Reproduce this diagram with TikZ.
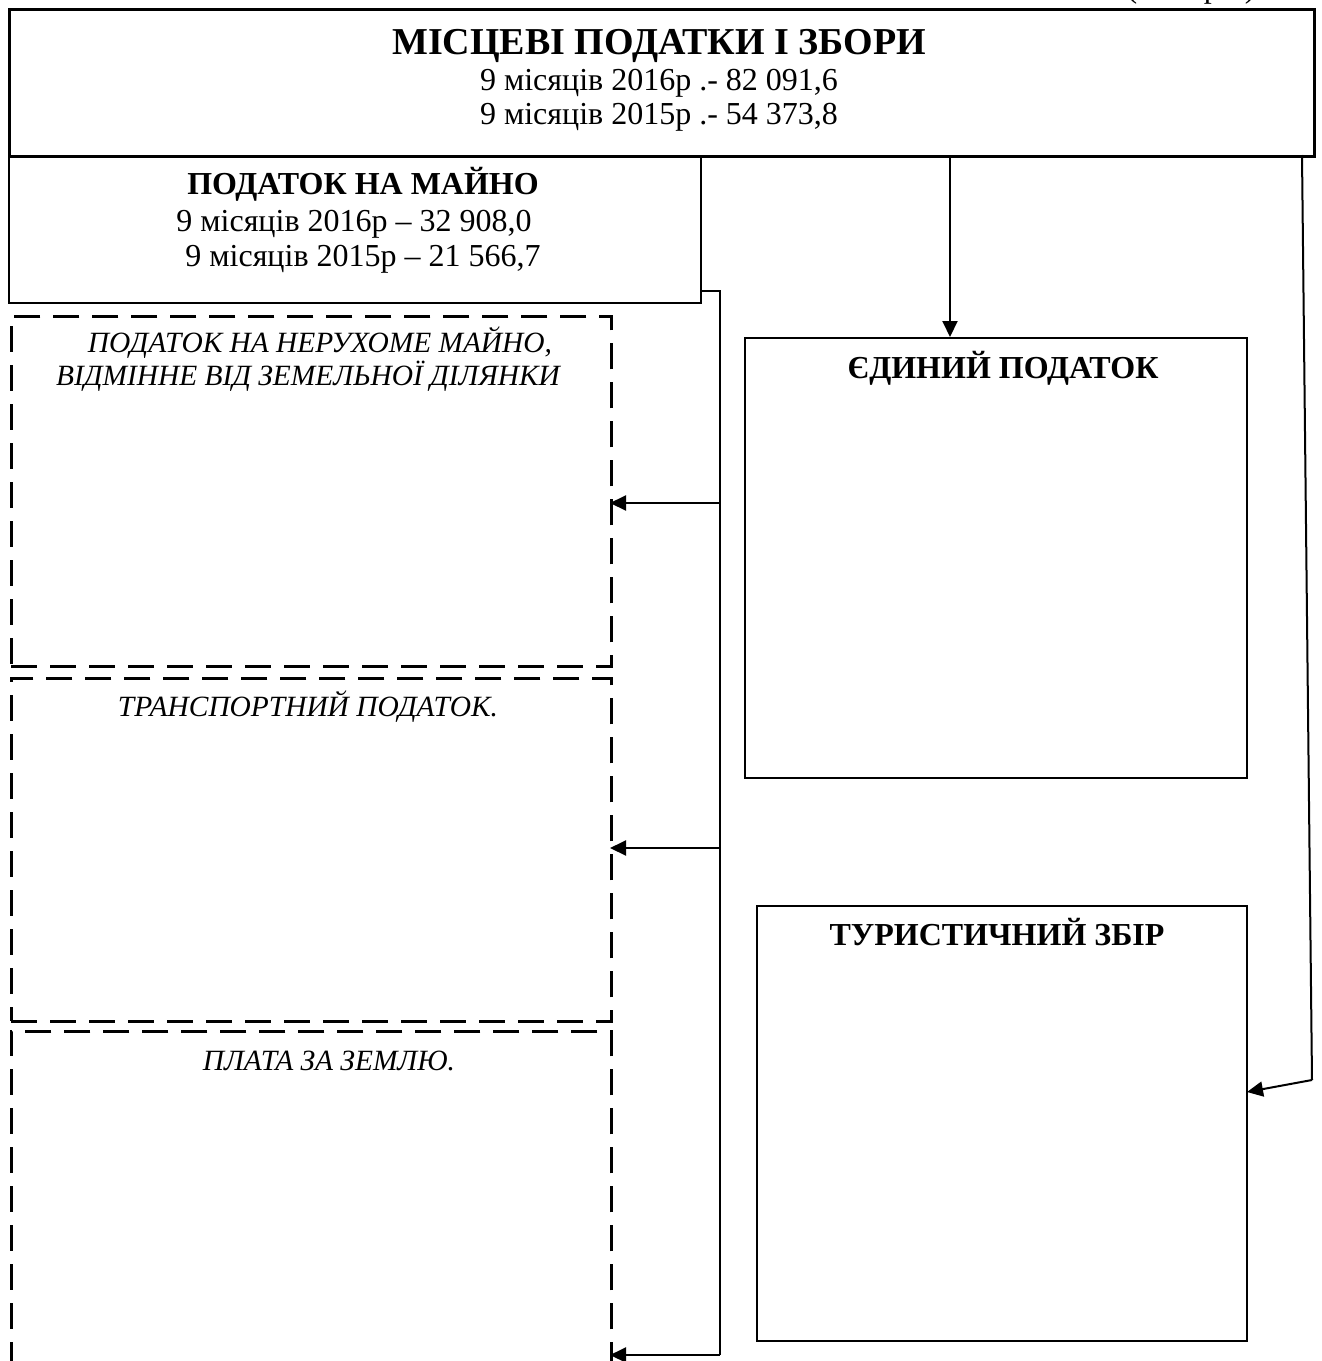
\documentclass[tikz,border=0pt]{standalone}
\usepackage{fontspec}
\setmainfont{Liberation Serif}
\usetikzlibrary{arrows.meta}
\begin{document}
\begin{tikzpicture}[x=0.5pt,y=-0.5pt,
  solidbox/.style={draw,line width=1pt,anchor=north west,inner sep=0pt},
  dbox/.style={draw,line width=1.4pt,dash pattern=on 13pt off 6.5pt,anchor=north west,inner sep=0pt},
  txt/.style={anchor=base,inner sep=0pt,font=\fontsize{16}{19}\selectfont},
  btxt/.style={txt,font=\fontsize{16}{19}\selectfont\bfseries},
  itxt/.style={txt,font=\fontsize{14.7}{18}\selectfont\itshape},
  conn/.style={line width=1pt},
  arr/.style={line width=1pt,-{Triangle[length=8pt,width=7.5pt]}}]
\useasboundingbox (0,0) rectangle (1322,1361);
% caption clipped at top
\node[txt,anchor=base east] (unit) at (1256,-3) {(тис.грн.)};
% boxes
\node[solidbox,line width=1.5pt,minimum width=652.5pt,minimum height=73.5pt] (top) at (8,8) {};
\node[solidbox,minimum width=346pt,minimum height=73.5pt] (maino) at (8,155) {};
\node[dbox,minimum width=300pt,minimum height=175pt] (d1) at (10,315) {};
\node[dbox,minimum width=300pt,minimum height=171.5pt] (d2) at (10,677) {};
\node[dbox,minimum width=300pt,minimum height=200pt] (d3) at (10,1030) {};
\node[solidbox,minimum width=251pt,minimum height=220pt] (edyn) at (744,337) {};
\node[solidbox,minimum width=245pt,minimum height=217.5pt] (tur) at (756,905) {};
% texts
\node[btxt,font=\fontsize{19}{22}\selectfont\bfseries] (t0) at (659,54) {МІСЦЕВІ ПОДАТКИ І ЗБОРИ};
\node[txt] (t1) at (659,90) {9 місяців 2016р .- 82 091,6};
\node[txt] (t2) at (659,124) {9 місяців 2015р .- 54 373,8};
\node[btxt] (m0) at (363,194) {ПОДАТОК НА МАЙНО};
\node[txt] (m1) at (354,231) {9 місяців 2016р – 32 908,0};
\node[txt] (m2) at (363,266) {9 місяців 2015р – 21 566,7};
\node[itxt] (a0) at (320,352) {ПОДАТОК НА НЕРУХОМЕ МАЙНО,};
\node[itxt] (a1) at (308,385) {ВІДМІННЕ ВІД ЗЕМЕЛЬНОЇ ДІЛЯНКИ};
\node[itxt] (b0) at (308,716) {ТРАНСПОРТНИЙ ПОДАТОК.};
\node[itxt] (c0) at (329,1070) {ПЛАТА ЗА ЗЕМЛЮ.};
\node[btxt] (e0) at (1003,378) {ЄДИНИЙ ПОДАТОК};
\node[btxt] (u0) at (997,945) {ТУРИСТИЧНИЙ ЗБІР};
% connectors
\coordinate (mo) at (700,291);
\coordinate (bus0) at (720,291);
\coordinate (bus1) at (720,503);
\coordinate (bus2) at (720,848);
\coordinate (bus3) at (720,1355);
\coordinate (in1) at (610,503);
\coordinate (in2) at (610,848);
\coordinate (in3) at (610,1355);
\draw[conn] (mo) -- (bus0) -- (bus3);
\draw[arr] (bus1) -- (in1);
\draw[arr] (bus2) -- (in2);
\draw[arr] (bus3) -- (in3);
\coordinate (es) at (950,155);
\coordinate (ee) at (950,337);
\draw[arr] (es) -- (ee);
\coordinate (rs) at (1302,155);
\coordinate (rb) at (1312,1080);
\coordinate (re) at (1247,1092);
\draw[conn] (rs) -- (rb);
\draw[arr] (rb) -- (re);
\end{tikzpicture}
\end{document}
